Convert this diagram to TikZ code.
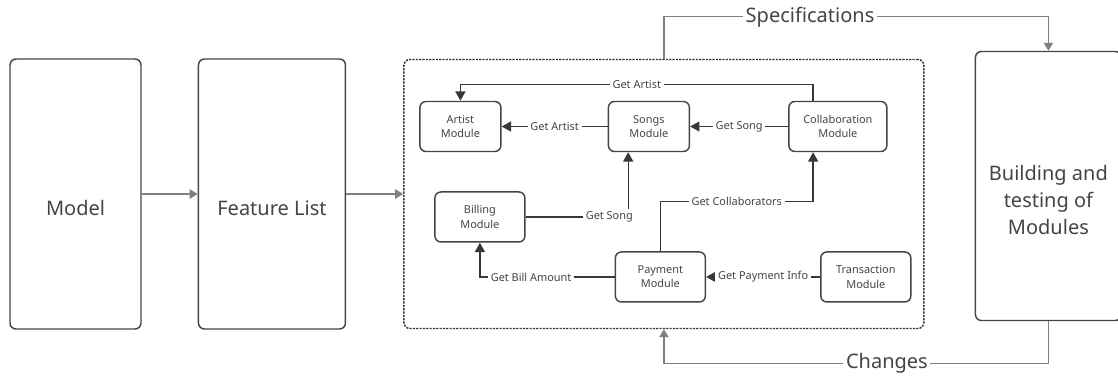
\documentclass[tikz,border=0pt]{standalone}
\usepackage{fontspec}
\setmainfont{Noto Sans}
\usetikzlibrary{arrows.meta,positioning}
\definecolor{boxgray}{HTML}{454545}
\definecolor{txtgray}{HTML}{444444}
\definecolor{linkgray}{HTML}{808080}

\begin{document}
\begin{tikzpicture}[>={Triangle[length=7pt,width=7.5pt]}]
	\tikzstyle{bigblock} = [draw=boxgray, line width=1.1pt, rounded corners=4.5pt, rectangle, minimum height=202.5pt, inner sep=0pt]
	\tikzstyle{bigtext} = [text=txtgray, font=\fontsize{15}{20}\selectfont, align=center, yshift=-10.5pt]
	\tikzstyle{module} = [draw=boxgray, line width=1.1pt, rounded corners=4.5pt, rectangle, minimum height=37.5pt, align=center, text=txtgray, font=\fontsize{8.2}{10.7}\selectfont]
	\tikzstyle{call} = [draw=black!78, line width=1.05pt, ->]
	\tikzstyle{flow} = [draw=linkgray, line width=1pt, ->, >={Triangle[length=6pt,width=7pt]}]
	\tikzstyle{tag} = [fill=white, inner sep=2pt, text=txtgray, font=\fontsize{8.2}{9}\selectfont]
	\tikzstyle{bigtag} = [fill=white, inner sep=2pt, text=txtgray, font=\fontsize{15}{18}\selectfont]

	\useasboundingbox (0,0) rectangle (838.5pt,-282pt);

	\node [bigblock, minimum width=98.25pt, label={[bigtext]center:Model}] (model) at (56.625pt,-145.5pt) {};
	\node [bigblock, minimum width=110.25pt, right=42pt of model, label={[bigtext]center:Feature List}] (feat) {};
	\node [bigblock, draw=black!80, dash pattern=on 1.6pt off 0.9pt, minimum width=390pt, minimum height=201.75pt, right=42.75pt of feat] (system) {};
	\node [bigblock, minimum width=109.5pt, minimum height=201.75pt, right=37.5pt of system, yshift=6pt, label={[bigtext]center:Building and\\testing of\\Modules}] (build) {};

	% modules inside the system
	\node [module, minimum width=60.75pt, below right=31.5pt and 12pt of system.north west] (artist) {Artist\\Module};
	\node [module, minimum width=60.75pt, right=79.5pt of artist] (songs) {Songs\\Module};
	\node [module, minimum width=73.5pt, right=73.5pt of songs] (collab) {Collaboration\\Module};
	\node [module, minimum width=67.5pt, below=29.25pt of artist, xshift=14.6pt] (billing) {Billing\\Module};
	\node [module, minimum width=67.5pt, below=74.25pt of songs, xshift=8.6pt] (payment) {Payment\\Module};
	\node [module, minimum width=67.5pt, right=85.5pt of payment] (trans) {Transaction\\Module};

	\coordinate (collabout) at ([xshift=18.75pt]collab.north west);
	\coordinate (collabin) at ([xshift=18.75pt]collab.south west);
	\coordinate (songsin) at ([xshift=15.4pt]songs.south west);
	\node [coordinate, above=12pt of collabout] (c1) {};
	\node [coordinate, above=37.5pt of payment] (c2) {};
	\node [coordinate, above=31.5pt of system] (c3) {};
	\node [coordinate, below=31.5pt of build] (c4) {};

	\draw [flow] (model) -- (feat);
	\draw [flow] (feat) -- (system);
	\draw [flow] (system.north) -- (c3) -| node[bigtag, pos=0.19]{Specifications} (build.north);
	\draw [flow] (build.south) -- (c4) -| node[bigtag, pos=0.21]{Changes} (system.south);

	\draw [call] (songs) -- node[tag]{Get Artist} (artist);
	\draw [call] (collab) -- node[tag]{Get Song} (songs);
	\draw [call] (collabout) -- (c1) -| node[tag, pos=0.25]{Get Artist} (artist.north);
	\draw [call] (billing.east) -| node[tag, pos=0.408]{Get Song} (songsin);
	\draw [call] (payment.north) -- (c2) -| node[tag, pos=0.25]{Get Collaborators} (collabin);
	\draw [call] (payment.west) -| node[tag, pos=0.31]{Get Bill Amount} (billing.south);
	\draw [call] (trans) -- node[tag]{Get Payment Info} (payment);
\end{tikzpicture}
\end{document}
